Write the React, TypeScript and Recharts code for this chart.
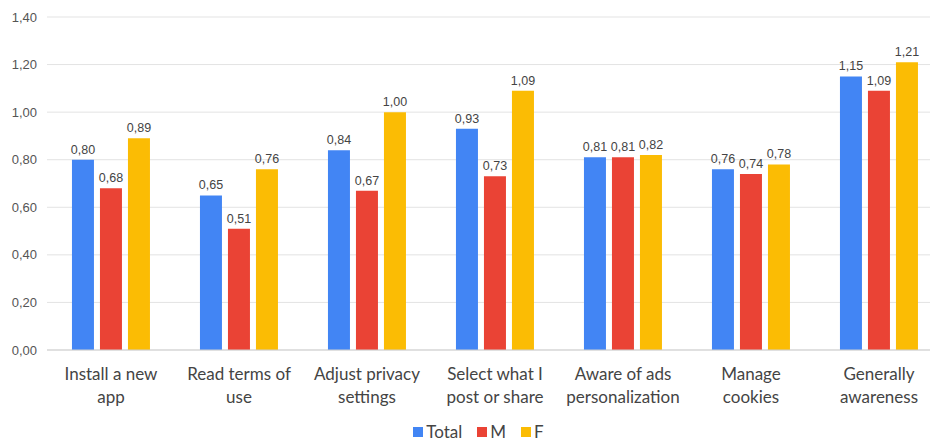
import React from 'react';
import {
  BarChart,
  Bar,
  XAxis,
  YAxis,
  CartesianGrid,
  Legend,
  LabelList,
} from 'recharts';

const categories = [
  'Install a new\napp',
  'Read terms of\nuse',
  'Adjust privacy\nsettings',
  'Select what I\npost or share',
  'Aware of ads\npersonalization',
  'Manage\ncookies',
  'Generally\nawareness',
];
const total = [0.8, 0.65, 0.84, 0.93, 0.81, 0.76, 1.15];
const male = [0.68, 0.51, 0.67, 0.73, 0.81, 0.74, 1.09];
const female = [0.89, 0.76, 1.0, 1.09, 0.82, 0.78, 1.21];
const yTicks = [0, 0.2, 0.4, 0.6, 0.8, 1.0, 1.2, 1.4];

const series = [
  { key: 'Total', color: '#4285F4' },
  { key: 'M', color: '#EA4335' },
  { key: 'F', color: '#FBBC04' },
];

const data = categories.map((name, i) => ({
  name,
  Total: total[i],
  M: male[i],
  F: female[i],
}));

const fmt = (v: number) => v.toFixed(2).replace('.', ',');

const CategoryTick = (props: any) => {
  const { x, y, payload } = props;
  const lines = String(payload.value).split('\n');
  return (
    <text
      x={x}
      y={y}
      textAnchor="middle"
      fill="#444"
      fontFamily="Lato, 'Open Sans', sans-serif"
      fontSize={17}
    >
      {lines.map((l, i) => (
        <tspan key={i} x={x} dy={i === 0 ? 22 : 23}>
          {l}
        </tspan>
      ))}
    </text>
  );
};

// legend in series order (recharts sorts by name otherwise)
const LegendContent = () => (
  <div
    style={{
      display: 'flex',
      justifyContent: 'center',
      gap: 15,
      fontFamily: "Lato, 'Open Sans', sans-serif",
      fontSize: 17,
      color: '#444',
    }}
  >
    {series.map((s) => (
      <div key={s.key} style={{ display: 'flex', alignItems: 'center', gap: 3 }}>
        <span style={{ width: 10, height: 10, background: s.color, display: 'inline-block' }} />
        <span>{s.key}</span>
      </div>
    ))}
  </div>
);

const labelStyle = {
  fontSize: 12.5,
  fill: '#444',
  fontFamily: "'Liberation Sans', Arial, sans-serif",
};

const App = () => (
  <div
    style={{
      position: 'absolute',
      left: 0,
      top: 0,
      width: 930,
      height: 443,
      overflow: 'hidden',
      background: '#fff',
    }}
  >
    <BarChart
      width={950}
      height={443}
      data={data}
      margin={{ top: 17, right: 7, left: 0, bottom: 0 }}
      barCategoryGap="19.5%"
      barGap={6}
    >
      <CartesianGrid vertical={false} stroke="#e3e3e3" />
      <XAxis
        dataKey="name"
        tick={<CategoryTick />}
        tickLine={false}
        axisLine={{ stroke: '#cfcfcf' }}
        interval={0}
        height={63}
      />
      <YAxis
        domain={[0, 1.4]}
        ticks={yTicks}
        tickFormatter={fmt}
        axisLine={false}
        tickLine={false}
        tickSize={0}
        tickMargin={10}
        width={47}
        tick={{
          fontSize: 13,
          fill: '#555',
          fontFamily: "'Liberation Sans', Arial, sans-serif",
        }}
      />
      <Legend
        content={<LegendContent />}
        height={30}
        wrapperStyle={{ left: 7, bottom: -8 }}
      />
      {series.map((s) => (
        <Bar key={s.key} dataKey={s.key} fill={s.color} isAnimationActive={false}>
          <LabelList dataKey={s.key} position="top" offset={6} formatter={fmt} style={labelStyle} />
        </Bar>
      ))}
    </BarChart>
  </div>
);

export default App;
